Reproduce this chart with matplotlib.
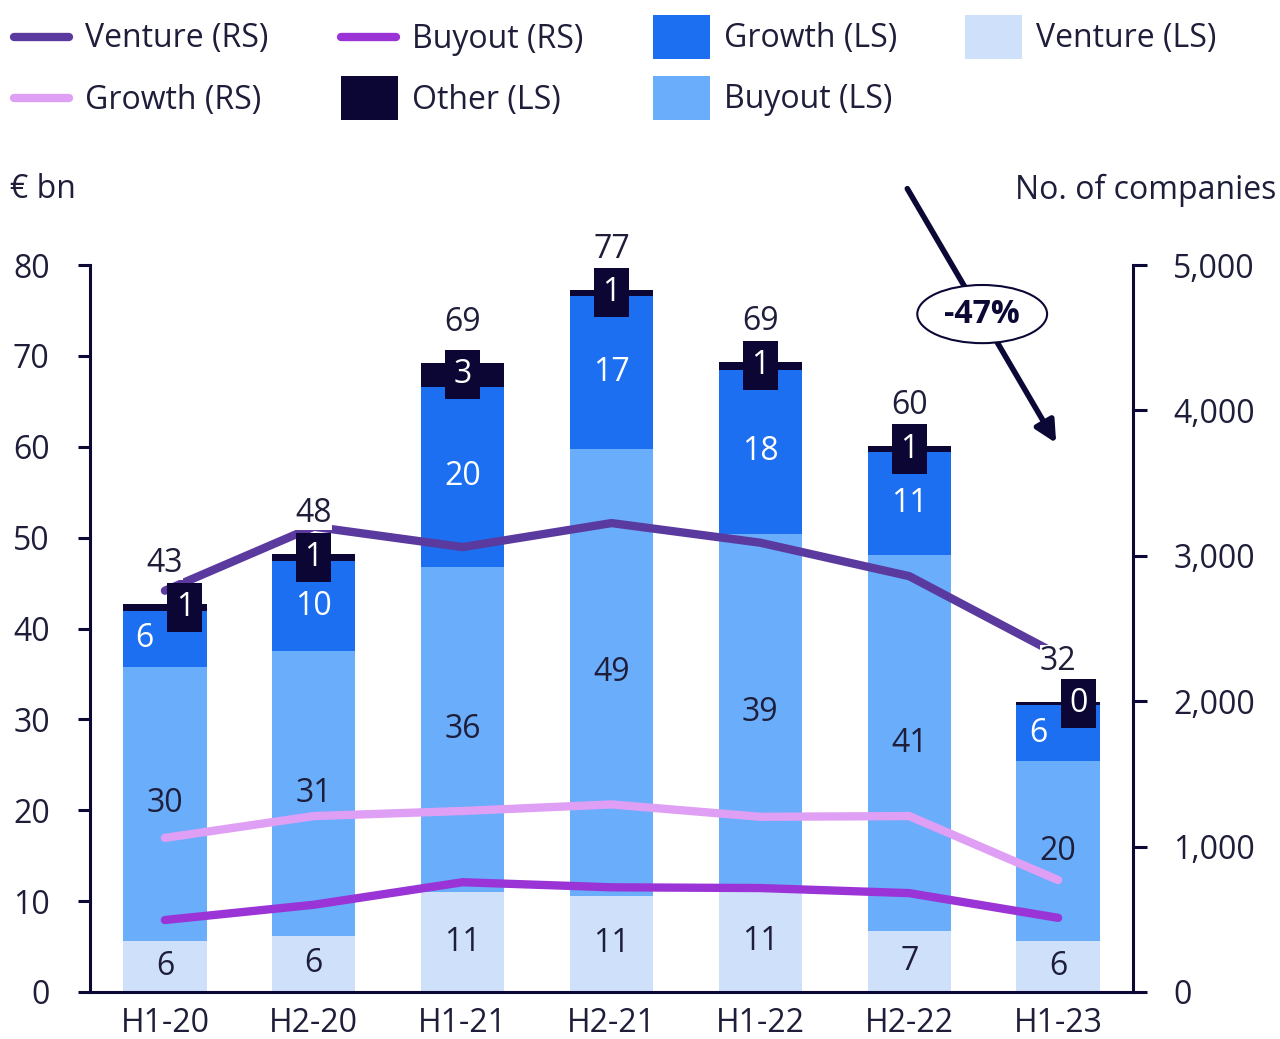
import matplotlib
matplotlib.use("Agg")
import matplotlib.pyplot as plt
from matplotlib.patches import Rectangle, Ellipse
from matplotlib.lines import Line2D
import numpy as np

# ---- data -------------------------------------------------------------
periods = ["H1-20", "H2-20", "H1-21", "H2-21", "H1-22", "H2-22", "H1-23"]

# value invested, EUR bn (left scale)
venture_ls = [5.6, 6.2, 11.0, 10.6, 11.2, 6.7, 5.6]
buyout_ls = [30.2, 31.3, 35.8, 49.2, 39.2, 41.4, 19.8]
growth_ls = [6.1, 9.9, 19.8, 16.8, 18.1, 11.3, 6.2]
other_ls = [0.8, 0.8, 2.6, 0.7, 0.8, 0.7, 0.3]

# number of companies (right scale)
venture_rs = [2760, 3200, 3060, 3225, 3090, 2860, 2320]
growth_rs = [1060, 1210, 1245, 1290, 1205, 1210, 770]
buyout_rs = [495, 600, 755, 720, 715, 680, 510]

change_label = "-47%"
left_ticks = [0, 10, 20, 30, 40, 50, 60, 70, 80]
right_ticks = [0, 1000, 2000, 3000, 4000, 5000]

# ---- style ------------------------------------------------------------
plt.rcParams["font.family"] = ["Open Sans", "DejaVu Sans"]
NAVY = "#0b0836"
TXT = "#1e1e3a"
C_VEN = "#cfe0fa"
C_BUY = "#69adfb"
C_GRO = "#1b6ff0"
C_OTH = "#0b0634"
L_VEN = "#5b3a9f"
L_BUY = "#9a34d6"
L_GRO = "#df9ff4"
FS = 23

W, H = 1280, 1039
fig = plt.figure(figsize=(W / 100, H / 100), dpi=100)


def fx(px):
    return px / W


def fy(py):
    return 1 - py / H


ax = fig.add_axes([fx(90), fy(992), fx(1133) - fx(90), fy(265) - fy(992)])
ax2 = ax.twinx()

x = np.arange(len(periods))
bw = 0.56

v = np.array(venture_ls)
b = np.array(buyout_ls)
g = np.array(growth_ls)
o = np.array(other_ls)

ax.bar(x, v, bw, color=C_VEN, zorder=2)
ax.bar(x, b, bw, bottom=v, color=C_BUY, zorder=2)
ax.bar(x, g, bw, bottom=v + b, color=C_GRO, zorder=2)
ax.bar(x, o, bw, bottom=v + b + g, color=C_OTH, zorder=2)

lw = 6
ax2.plot(x, venture_rs, color=L_VEN, lw=lw, solid_capstyle="round", solid_joinstyle="round", zorder=3)
ax2.plot(x, growth_rs, color=L_GRO, lw=lw, solid_capstyle="round", solid_joinstyle="round", zorder=3)
ax2.plot(x, buyout_rs, color=L_BUY, lw=lw, solid_capstyle="round", solid_joinstyle="round", zorder=3)

# ---- axes -------------------------------------------------------------
ax.set_xlim(-0.503, len(periods) - 1 + 0.503)
ax.set_ylim(0, 80)
ax2.set_ylim(0, 5000)
ax.set_yticks(left_ticks)
ax.set_yticklabels([str(t) for t in left_ticks])
ax2.set_yticks(right_ticks)
ax2.set_yticklabels([f"{t:,}" for t in right_ticks])
ax.set_xticks(x)
ax.set_xticklabels(periods)

for a in (ax, ax2):
    for s in a.spines.values():
        s.set_color(NAVY)
        s.set_linewidth(2.2)
    a.spines["top"].set_visible(False)
ax.spines["right"].set_visible(False)
ax2.spines["left"].set_visible(False)
ax2.spines["bottom"].set_visible(False)

ax.tick_params(axis="y", length=9, width=2.2, color=NAVY, pad=20, labelsize=FS, labelcolor=TXT)
ax2.tick_params(axis="y", length=10, width=2.2, color=NAVY, pad=19, labelsize=FS, labelcolor=TXT)
ax.tick_params(axis="x", length=0, pad=11, labelsize=FS, labelcolor=TXT)

# ---- labels -----------------------------------------------------------
trans = ax.transData
shift = [0.135, 0, 0, 0, 0, 0, 0.135]
for i in range(len(periods)):
    # venture and buyout segment values
    ax2.text(x[i], v[i] / 2, f"{v[i]:.0f}", transform=trans, ha="center", va="center",
             fontsize=FS, color=TXT, zorder=5)
    ax2.text(x[i], v[i] + b[i] / 2, f"{b[i]:.0f}", transform=trans, ha="center", va="center",
             fontsize=FS, color=TXT, zorder=5)
    # growth segment value
    ax2.text(x[i] - shift[i], v[i] + b[i] + g[i] / 2, f"{g[i]:.0f}", transform=trans,
             ha="center", va="center", fontsize=FS, color="white", zorder=5)
    # other segment value in a dark tag
    oc = v[i] + b[i] + g[i] + o[i] / 2
    tag_w, tag_h = 0.235, 5.4
    ax2.add_patch(Rectangle((x[i] + shift[i] - tag_w / 2, oc - tag_h / 2), tag_w, tag_h,
                            transform=trans, facecolor=C_OTH, edgecolor="none", zorder=6))
    ax2.text(x[i] + shift[i], oc, f"{o[i]:.0f}", transform=trans, ha="center", va="center",
             fontsize=FS, color="white", zorder=7)
    # total, on a white backing so it stays readable over the lines
    tot = v[i] + b[i] + g[i] + o[i]
    ax2.annotate(f"{tot:.0f}", xy=(x[i], tot), xycoords=trans, xytext=(0, 29),
                 textcoords="offset points", ha="center", va="center", fontsize=FS,
                 color=TXT, zorder=5,
                 bbox=dict(boxstyle="square,pad=0.0", facecolor="white", edgecolor="none"))

# change arrow with ellipse tag
ax2.annotate("", xy=(5.987, 60.4), xycoords=trans, xytext=(4.987, 88.4), textcoords=trans,
             arrowprops=dict(arrowstyle="-|>", lw=4, color=NAVY, mutation_scale=32,
                             shrinkA=0, shrinkB=0), annotation_clip=False, zorder=8)
ax2.add_patch(Ellipse((5.49, 74.6), 0.872, 6.4, transform=trans, facecolor="white",
                      edgecolor=NAVY, lw=1.5, zorder=9, clip_on=False))
ax2.text(5.49, 74.6, change_label, transform=trans, ha="center", va="center",
         fontsize=FS, fontweight="bold", color=NAVY, zorder=10)

# axis titles
fig.text(fx(10), fy(190), "€ bn", ha="left", va="center", fontsize=FS, color=TXT)
fig.text(fx(1276), fy(190), "No. of companies", ha="right", va="center", fontsize=FS, color=TXT)

# ---- legend -----------------------------------------------------------
legend_items = [
    ("Venture (RS)", "line", L_VEN, 14, 37),
    ("Buyout (RS)", "line", L_BUY, 341, 37),
    ("Growth (LS)", "box", C_GRO, 653, 37),
    ("Venture (LS)", "box", C_VEN, 965, 37),
    ("Growth (RS)", "line", L_GRO, 14, 98),
    ("Other (LS)", "box", C_OTH, 341, 98),
    ("Buyout (LS)", "box", C_BUY, 653, 98),
]
for label, kind, col, px, py in legend_items:
    if kind == "line":
        fig.add_artist(Line2D([fx(px), fx(px + 55)], [fy(py), fy(py)], color=col, lw=6,
                              solid_capstyle="round", transform=fig.transFigure))
    else:
        fig.add_artist(Rectangle((fx(px), fy(py + 22)), fx(57), 44 / H, facecolor=col,
                                 edgecolor="none", transform=fig.transFigure))
    fig.text(fx(px + 71), fy(py + 2), label, ha="left", va="center", fontsize=FS, color=TXT)

fig.savefig("out.png", dpi=100, facecolor="white")
